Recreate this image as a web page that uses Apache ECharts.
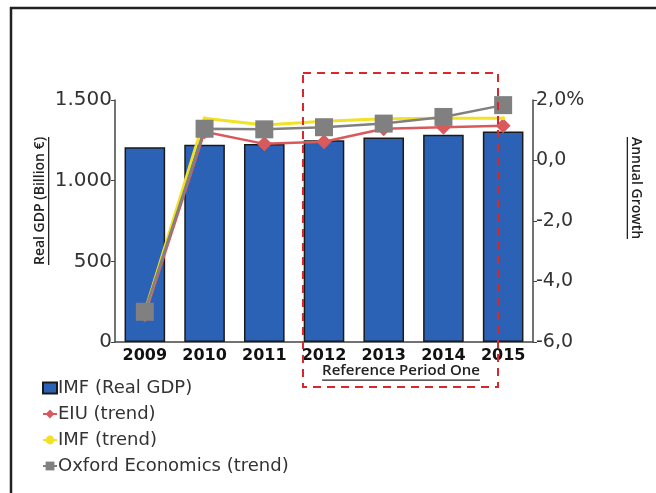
<!DOCTYPE html>
<html>
<head>
<meta charset="utf-8">
<script src="https://cdn.jsdelivr.net/npm/echarts@6/dist/echarts.min.js"></script>
<style>
  html, body { margin: 0; padding: 0; background: #fff; }
  #main { width: 656px; height: 493px; }
</style>
</head>
<body>
<div id="main"></div>
<script>
  // data
  var years = ['2009', '2010', '2011', '2012', '2013', '2014', '2015'];
  var imfGdp = [1207, 1223, 1228, 1250, 1268, 1285, 1304];
  var eiuTrend = [-5.1, 0.95, 0.55, 0.62, 1.05, 1.1, 1.15];
  var imfTrend = [-5.0, 1.4, 1.17, 1.3, 1.38, 1.4, 1.4];
  var oxfordTrend = [-5.0, 1.05, 1.03, 1.1, 1.22, 1.44, 1.83];

  var gdpTicks = { min: 0, max: 1500, step: 500 };
  var growthTicks = { min: -6, max: 2, step: 2 };

  var font = 'DejaVu Sans';

  function textWidth(txt, f) {
    var c = document.createElement('canvas').getContext('2d');
    c.font = f;
    return c.measureText(txt).width;
  }

  // rotated text with a line under it
  function underlined(txt, x, y, rot, size) {
    var f = '600 ' + size + 'px "Open Sans"';
    var w = textWidth(txt, f);
    return {
      type: 'group', x: x, y: y, rotation: rot,
      children: [
        { type: 'text', style: { text: txt, x: 0, y: 0, align: 'center', verticalAlign: 'middle',
            font: f, fill: '#222' } },
        { type: 'rect', shape: { x: -w / 2, y: size / 2 + 1, width: w, height: 1.3 },
          style: { fill: '#222' } }
      ]
    };
  }

  var myChart = echarts.init(document.getElementById('main'));
  var option = {
    animation: false,
    grid: { left: 115, right: 123, top: 100, bottom: 151 },
    legend: {
      orient: 'vertical',
      left: 42,
      top: 378,
      padding: 0,
      itemGap: 6,
      itemWidth: 14,
      itemHeight: 11,
      textStyle: { fontFamily: font, fontSize: 18, color: '#333', padding: [0, 0, 0, -4], lineHeight: 20 },
      data: [{ name: 'IMF (Real GDP)', icon: 'rect' }, 'EIU (trend)', 'IMF (trend)', 'Oxford Economics (trend)']
    },
    xAxis: {
      type: 'category',
      data: years,
      axisLine: { lineStyle: { color: '#444', width: 1.5 } },
      axisTick: { show: false },
      axisLabel: { fontFamily: font, fontWeight: 'bold', fontSize: 16, color: '#111', margin: 6 }
    },
    yAxis: [
      {
        type: 'value',
        min: gdpTicks.min, max: gdpTicks.max, interval: gdpTicks.step,
        axisLine: { show: true, lineStyle: { color: '#444', width: 1.5 } },
        axisTick: { show: true, length: 4, lineStyle: { color: '#444' } },
        splitLine: { show: false },
        axisLabel: {
          fontFamily: font, fontSize: 20, color: '#333', margin: 3,
          formatter: function (v) { return v.toLocaleString('de-DE'); }
        }
      },
      {
        type: 'value',
        position: 'right',
        min: growthTicks.min, max: growthTicks.max, interval: growthTicks.step,
        axisLine: { show: true, lineStyle: { color: '#444', width: 1.5 } },
        axisTick: { show: true, length: 4, lineStyle: { color: '#444' } },
        splitLine: { show: false },
        axisLabel: {
          fontFamily: font, fontSize: 19, color: '#333', margin: 3,
          formatter: function (v) {
            var s = v.toFixed(1).replace('.', ',');
            return v === growthTicks.max ? s + '%' : s;
          }
        }
      }
    ],
    series: [
      {
        name: 'IMF (Real GDP)',
        type: 'bar',
        barWidth: '68%',
        data: imfGdp,
        itemStyle: { color: '#2c62b6', borderColor: '#1a1a1a', borderWidth: 1.5 }
      },
      {
        name: 'EIU (trend)',
        type: 'line',
        yAxisIndex: 1,
        data: eiuTrend,
        symbol: 'diamond',
        symbolSize: 15,
        lineStyle: { color: '#d95a5c', width: 2.5 },
        itemStyle: { color: '#d95a5c' }
      },
      {
        name: 'IMF (trend)',
        type: 'line',
        yAxisIndex: 1,
        data: imfTrend,
        symbol: 'circle',
        symbolSize: 4,
        lineStyle: { color: '#f2e224', width: 3 },
        itemStyle: { color: '#f2e224' }
      },
      {
        name: 'Oxford Economics (trend)',
        type: 'line',
        yAxisIndex: 1,
        data: oxfordTrend,
        symbol: 'rect',
        symbolSize: 18,
        lineStyle: { color: '#808080', width: 2.5 },
        itemStyle: { color: '#808080' }
      }
    ],
    graphic: [
      { type: 'polyline', shape: { points: [[11, 493], [11, 8], [656, 8]] },
        style: { stroke: '#222', lineWidth: 2.5, fill: null } },
      { type: 'rect', shape: { x: 303, y: 73, width: 195, height: 314 },
        style: { fill: null, stroke: '#d9272e', lineWidth: 2, lineDash: [8, 6] }, z: 100 },
      underlined('Real GDP (Billion €)', 40, 201, Math.PI / 2, 14),
      underlined('Annual Growth', 636, 188, -Math.PI / 2, 14),
      underlined('Reference Period One', 401, 371, 0, 15)
    ]
  };
  myChart.setOption(option);
</script>
</body>
</html>
